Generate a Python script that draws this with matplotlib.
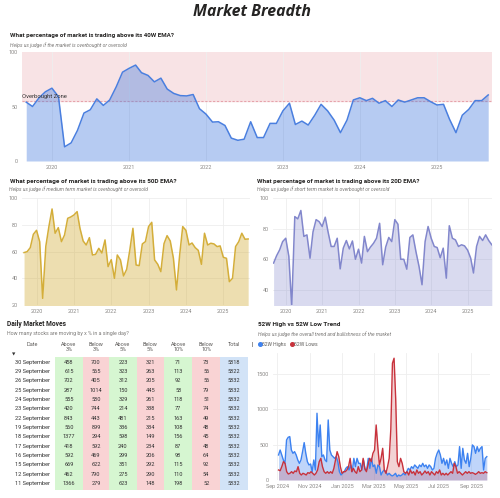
import matplotlib
matplotlib.use("Agg")
import matplotlib.pyplot as plt
import matplotlib.dates as mdates
from matplotlib.patches import Rectangle
from matplotlib import font_manager as fm
import pandas as pd

# ---------------- data ----------------
ema40w = [54, 50, 58, 63.5,
          66.8, 59, 13, 16.6, 28, 44, 47, 57, 51, 56, 68, 81.5,
          85, 88, 81, 78.5, 72.6, 76, 66, 62, 60, 59.7, 61, 48,
          43, 35.7, 36, 32.6, 21, 19, 20, 36, 21.5, 21.5, 34.5, 34.5,
          46, 53, 33.5, 36.6, 33, 42, 52, 46, 37.5, 26, 37.5, 56,
          58, 55.4, 57.5, 53, 55.4, 50, 56, 54, 56, 58, 58, 54.5,
          51.4, 52, 38.5, 26, 42, 47.4, 55.4, 55.4, 60.6]
ema50d = [59.3, 60, 63, 73,
          76, 67.5, 25, 64, 78.8, 92, 73.8, 78, 67.5, 72.5, 85, 86,
          87.5, 90, 77.5, 68, 65, 70.5, 57.5, 58, 62.5, 59, 68.8, 48.8,
          54, 40, 57.5, 53.8, 41.8, 46.8, 61, 77.5, 50, 49.5, 65.8, 67.5,
          78.8, 82, 53.8, 50.5, 45, 66, 72, 68, 55, 31.3, 57.5, 78.8,
          76, 65, 66.5, 63, 61, 50.5, 73.8, 65, 66.3, 65.8, 63.8, 64.3,
          55.8, 55, 37.5, 40, 63.8, 67.5, 73.8, 69.3, 69.5]
ema20d = [57.5, 62.3, 66.2, 71.6,
          73.8, 62, 29, 88, 86.5, 92, 75, 76, 60.7, 78, 86, 84.7,
          81.5, 87.6, 78, 68.4, 68.4, 73.8, 53.7, 67.3, 72.3, 66.8, 72, 60,
          66.6, 57.5, 75, 65, 68, 70.5, 73.8, 83.6, 56.4, 68, 74.3, 71.6,
          86, 83, 60, 60, 53.5, 74.3, 76, 65, 55.3, 43.3, 71.6, 81.5,
          73.8, 68.4, 67.7, 61, 67.3, 47.6, 82, 73.8, 72.7, 68.4, 69.5, 68.8,
          66, 60.7, 51, 68.4, 75, 72.3, 76, 72.3, 69.5]
ema_start = "2019-09-01"

highs52 = [355, 425, 355, 284, 236, 567, 605, 615, 425, 378, 402, 355, 284, 236, 284, 402,
           530, 378, 260, 213, 227, 118, 284, 142, 946, 473, 780, 331, 355, 284, 260, 851,
           425, 355, 331, 307, 331, 260, 118, 71, 95, 118, 165, 189, 142, 213, 118, 307,
           189, 307, 236, 236, 142, 284, 142, 142, 307, 165, 307, 189, 213, 95, 213, 189,
           71, 118, 142, 118,
           71, 95, 71, 57, 71, 95, 47, 71, 57, 71, 95, 71, 118, 165, 142, 189,
           165, 213, 189, 165, 213, 189, 236, 189, 213, 165, 213, 189, 142, 165, 307, 378,
           425, 355, 236, 307, 213, 284, 165, 307, 236, 189, 260, 189, 213, 473, 165, 449,
           284, 236, 378, 189, 307, 497, 473, 378, 473, 402, 449, 473, 142, 307, 331]
lows52 = [142, 132, 189, 260, 236, 118, 85, 95, 118, 95, 128, 118, 189, 95, 71, 95,
          85, 71, 104, 95, 118, 95, 71, 95, 142, 260, 307, 189, 118, 95, 118, 95,
          118, 95, 165, 284, 402, 331, 189, 95, 118, 118, 142, 189, 307, 118, 165, 118,
          95, 189, 118, 142, 307, 165, 118, 213, 307, 260, 378, 425, 780, 473, 213, 307,
          449, 142,
          95, 189, 307, 720, 1655, 1726, 1150, 260, 189, 307, 236, 118, 95, 118, 71, 142,
          95, 118, 71, 142, 95, 118, 71, 95, 128, 95, 118, 71, 118, 95, 71, 118,
          95, 142, 71, 95, 71, 95, 71, 95, 118, 95, 236, 189, 95, 118, 95, 71,
          95, 118, 95, 118, 95, 104, 95, 80, 95, 118, 95, 104, 95, 118, 104]
hl_start, hl_end = "2024-09-03", "2025-09-30"

tbl_dates = ["30 September", "29 September", "26 September", "25 September", "24 September",
             "23 September", "22 September", "19 September", "18 September", "17 September",
             "16 September", "15 September", "12 September", "11 September"]
above3 = [458, 615, 702, 287, 555, 420, 843, 560, 1377, 418, 592, 669, 462, 1366]
below3 = [700, 565, 405, 1014, 580, 744, 443, 899, 294, 592, 469, 622, 790, 279]
above5 = [223, 323, 312, 150, 329, 214, 481, 336, 598, 240, 299, 351, 275, 623]
below5 = [321, 263, 205, 445, 261, 338, 215, 334, 149, 234, 206, 292, 290, 148]
above10 = [71, 113, 92, 58, 118, 77, 163, 108, 156, 87, 98, 115, 110, 198]
below10 = [73, 56, 56, 79, 51, 74, 49, 48, 45, 48, 64, 92, 54, 52]
total = [5818, 5822, 5832, 5832, 5832, 5832, 5832, 5832, 5832, 5832, 5832, 5832, 5832, 5832]
tbl_headers = ["Date", "Above\n3%", "Below\n3%", "Above\n5%", "Below\n5%", "Above\n10%", "Below\n10%", "Total"]

# ---------------- style ----------------
avail = {f.name for f in fm.fontManager.ttflist}
NARROW = "Liberation Sans Narrow" if "Liberation Sans Narrow" in avail else "Roboto"
plt.rcParams["font.family"] = [NARROW, "DejaVu Sans"]
TITLE_FONT = "Open Sans" if "Open Sans" in avail else "DejaVu Sans"

W, H = 500, 498
fig = plt.figure(figsize=(5.0, 4.98), dpi=100)
fig.patch.set_facecolor("white")
renderer = fig.canvas.get_renderer()

TICK_C = "#8a8886"
GRID_C = "#eeeeee"


def px_axes(x0, y0, x1, y1):
    return fig.add_axes([x0 / W, 1 - y1 / H, (x1 - x0) / W, (y1 - y0) / H])


def style(ax, yticks, fmt, locator):
    for s in ax.spines.values():
        s.set_visible(False)
    ax.set_yticks(yticks)
    ax.xaxis.set_major_locator(locator)
    ax.xaxis.set_major_formatter(mdates.DateFormatter(fmt))
    ax.tick_params(length=0, labelsize=4, colors=TICK_C, pad=3)
    ax.grid(True, color=GRID_C, lw=0.6)
    ax.set_axisbelow(True)


ema_dates = pd.date_range(ema_start, periods=len(ema40w), freq="MS")
years = mdates.YearLocator()

# Panel 1: 40W
ax1 = px_axes(22, 52, 492, 161)
ax1.axhspan(55, 100, color="#f8e3e5", zorder=0)
ax1.axhline(55, color="#e6a3ab", lw=0.8, ls=(0, (2, 1.5)), zorder=1)
c1 = "#4a7fdf"
ax1.fill_between(ema_dates, ema40w, 0, color=c1, alpha=0.4, lw=0, zorder=2)
ax1.plot(ema_dates, ema40w, color=c1, lw=1.1, zorder=3)
ax1.set_ylim(0, 100)
ax1.set_xlim(pd.Timestamp("2019-08-12"), pd.Timestamp("2025-09-19"))
style(ax1, [0, 50, 100], "%Y", years)
ax1.grid(axis="y", visible=False)
ax1.text(pd.Timestamp("2019-08-14"), 57, "Overbought Zone", fontsize=4.2, color="#333333",
         va="bottom", ha="left", zorder=4)

# Panel 2: 50D
ax2 = px_axes(22, 198.3, 250, 305)
c2 = "#d4ae3a"
ax2.fill_between(ema_dates, ema50d, 0, color=c2, alpha=0.4, lw=0)
ax2.plot(ema_dates, ema50d, color=c2, lw=1.1)
ax2.set_ylim(20, 100)
ax2.set_xlim(pd.Timestamp("2019-08-12"), pd.Timestamp("2025-09-19"))
style(ax2, [20, 40, 60, 80, 100], "%Y", years)

# Panel 3: 20D
ax3 = px_axes(272.7, 198.3, 492, 305)
c3 = "#8287cc"
ax3.fill_between(ema_dates, ema20d, 0, color=c3, alpha=0.3, lw=0)
ax3.plot(ema_dates, ema20d, color=c3, lw=1.1)
ax3.set_ylim(30, 100)
ax3.set_xlim(pd.Timestamp("2019-08-23"), pd.Timestamp("2025-09-03"))
style(ax3, [40, 60, 80, 100], "%Y", years)

# Panel 4: 52W highs vs lows
ax4 = px_axes(272.7, 353, 490, 480)
hd = pd.date_range(hl_start, hl_end, periods=len(highs52))
ld = pd.date_range(hl_start, hl_end, periods=len(lows52))
cb, cr = "#3d82f0", "#c8323c"
ax4.fill_between(hd, highs52, 0, color=cb, alpha=0.33, lw=0)
ax4.plot(hd, highs52, color=cb, lw=1.0)
ax4.fill_between(ld, lows52, 0, color=cr, alpha=0.22, lw=0)
ax4.plot(ld, lows52, color=cr, lw=1.0)
ax4.set_ylim(0, 1800)
ax4.set_xlim(pd.Timestamp("2024-08-23"), pd.Timestamp("2025-10-06"))
style(ax4, [0, 500, 1000, 1500], "%b %Y", mdates.MonthLocator(bymonth=[1, 3, 5, 7, 9, 11]))

# ---------------- overlay: titles, legend, table ----------------
ov = fig.add_axes([0, 0, 1, 1])
ov.set_xlim(0, W)
ov.set_ylim(H, 0)
ov.axis("off")
ov.patch.set_visible(False)


def fit(t, width):
    bb = t.get_window_extent(renderer)
    t.set_fontsize(t.get_fontsize() * width / bb.width)
    return t


fit(ov.text(251.7, 12.2, "Market Breadth", family=TITLE_FONT, weight="bold", style="italic",
            color="#252423", ha="center", va="center", fontsize=12), 118)

TC, SC = "#252423", "#7a7876"
title_specs = [
    (10, 35.5, "What percentage of market is trading above its 40W EMA?", 166),
    (10, 181.7, "What percentage of market is trading above its 50D EMA?", 165),
    (257.3, 181.5, "What percentage of market is trading above its 20D EMA?", 165),
    (7, 324.2, "Daily Market Moves", 59),
    (258.3, 324.8, "52W High vs 52W Low Trend", 82),
]
for x, y, s, w in title_specs:
    fit(ov.text(x, y, s, color=TC, weight="bold", ha="left", va="center", fontsize=6), w)

sub_specs = [
    (10, 44.7, "Helps us judge if the market is overbought or oversold", 118, "italic"),
    (9.3, 189.3, "Helps us judge if medium term market is overbought or oversold", 141, "italic"),
    (257.3, 189.3, "Helps us judge if short term market is overbought or oversold", 135, "italic"),
    (7, 333.7, "How many stocks are moving by x % in a single day?", 122, "normal"),
    (258, 334.5, "Helps us judge the overall trend and bullishness of the market", 136, "italic"),
]
for x, y, s, w, st in sub_specs:
    fit(ov.text(x, y, s, color=SC, style=st, ha="left", va="center", fontsize=5), w)

# legend for panel 4
ov.add_patch(Rectangle((252, 341.5), 1.3, 5.5, color="#9a9896", lw=0))
ov.plot([260.3], [344.3], "o", ms=2.6, color=cb)
fit(ov.text(262.5, 344.3, "52W Highs", fontsize=4.2, color="#605e5c", va="center"), 24.5)
ov.plot([291.7], [344.3], "o", ms=2.6, color=cr)
fit(ov.text(294, 344.3, "52W Lows", fontsize=4.2, color="#605e5c", va="center"), 24)

# table
cols = [tbl_dates, above3, below3, above5, below5, above10, below10, total]
col_edges = [8, 55, 82.7, 109.3, 136.7, 164, 192.3, 220, 248.3]
col_bg = [None, "#d6f6d1", "#f9d3d4", "#d6f6d1", "#f9d3d4", "#d6f6d1", "#f9d3d4", "#d2e3f7"]
row0, rowh = 362.3, 9.33
top, bottom = 357, 489.5
for j, bg in enumerate(col_bg):
    if bg:
        ov.add_patch(Rectangle((col_edges[j], top), col_edges[j + 1] - col_edges[j], bottom - top,
                               color=bg, lw=0))
for j, (hdr, col) in enumerate(zip(tbl_headers, cols)):
    cx = 32.5 if j == 0 else (col_edges[j] + col_edges[j + 1]) / 2
    ov.text(cx, 341.8, hdr, fontsize=4.0, color="#605e5c", ha="center", va="top", linespacing=1.1)
    for i, v in enumerate(col):
        ov.text(cx, row0 + i * rowh, str(v), fontsize=4.1, color="#333333", ha="center", va="center")
ov.text(13.3, 354.2, "\u25bc", fontsize=3.2, color="#333333", ha="center", va="center",
        family="DejaVu Sans")

fig.savefig("out.png", dpi=100, facecolor="white")
